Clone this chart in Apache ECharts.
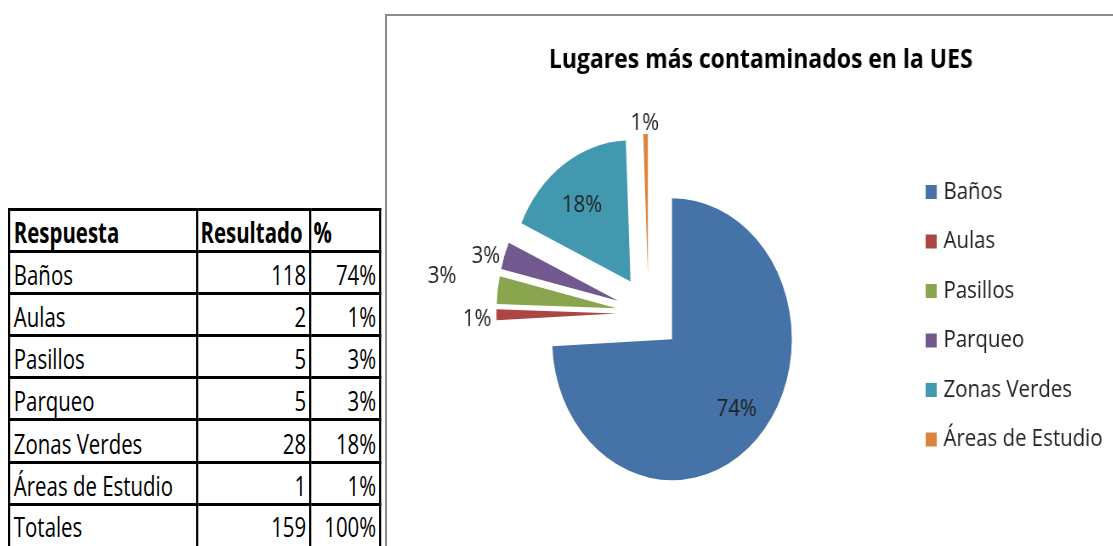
<!DOCTYPE html>
<html>
<head>
<meta charset="utf-8">
<script src="https://cdn.jsdelivr.net/npm/echarts@6/dist/echarts.min.js"></script>
<style>
  html, body { margin: 0; padding: 0; background: #fff; }
  body { width: 1113px; height: 546px; overflow: hidden; position: relative; font-family: 'Open Sans', sans-serif; }
  #tblwrap { position: absolute; left: 8px; top: 208px; transform: scaleX(0.729); transform-origin: 0 0; }
  table { border-collapse: collapse; table-layout: fixed; font-size: 28px; color: #000; }
  td { box-sizing: border-box; border: 3px solid #000; height: 42.1px; line-height: 29px; vertical-align: bottom; padding: 0 4px 3px 5px; white-space: nowrap; overflow: hidden; }
  td.num { text-align: right; padding: 0 4px 3px 2px; }
  tr.head td { font-weight: bold; }
  tr.head td.h2, tr.head td.h3 { text-align: left; padding-left: 3px; }
  tr.tot td { height: 50px; vertical-align: top; padding-top: 6px; }
  #box { position: absolute; left: 385px; top: 14px; right: -5px; bottom: -5px; border-top: 2px solid #8c8c8c; border-left: 2px solid #8c8c8c; }
  #chartwrap { position: absolute; left: 0; top: 0; width: 1310px; height: 546px; transform: scaleX(0.85); transform-origin: 0 0; }
  #chart { width: 1310px; height: 546px; }
</style>
</head>
<body>
<div id="box"></div>
<div id="tblwrap"><table id="tbl"></table></div>
<div id="chartwrap"><div id="chart"></div></div>
<script>
// ---- data ----
const title = 'Lugares más contaminados en la UES';
const categories = ['Baños', 'Aulas', 'Pasillos', 'Parqueo', 'Zonas Verdes', 'Áreas de Estudio'];
const results = [118, 2, 5, 5, 28, 1];
const tableHeaders = ['Respuesta', 'Resultado', '%'];
const totalLabel = 'Totales';

// ---- table ----
const total = results.reduce((a, b) => a + b, 0);
const colW = [258, 155, 96];
let html = '<colgroup>' + colW.map(w => '<col style="width:' + w + 'px">').join('') + '</colgroup>';
html += '<tr class="head"><td>' + tableHeaders[0] + '</td><td class="h2">' + tableHeaders[1] + '</td><td class="h3">' + tableHeaders[2] + '</td></tr>';
categories.forEach((c, i) => {
  html += '<tr><td>' + c + '</td><td class="num">' + results[i] + '</td><td class="num">' + Math.round(results[i] / total * 100) + '%</td></tr>';
});
html += '<tr class="tot"><td>' + totalLabel + '</td><td class="num">' + total + '</td><td class="num">100%</td></tr>';
document.getElementById('tbl').innerHTML = html;

// ---- chart ----
const colors = ['#4572A7', '#AA4643', '#89A54E', '#71588F', '#4198AF', '#DB843D'];
const labelPlace = {
  'Baños':            { pos: 'inside',  len: 0,  dx: 23,  dy: 19 },
  'Aulas':            { pos: 'outside', len: 1,  dx: 0,   dy: 4 },
  'Pasillos':         { pos: 'outside', len: 44, dx: 0,   dy: -8 },
  'Parqueo':          { pos: 'outside', len: 0,  dx: 0,   dy: 0 },
  'Zonas Verdes':     { pos: 'inside',  len: 0,  dx: -16, dy: -15 },
  'Áreas de Estudio': { pos: 'outside', len: 11, dx: 21,  dy: 0 }
};

const chart = echarts.init(document.getElementById('chart'), null, { renderer: 'canvas' });
const option = {
  animation: false,
  textStyle: { fontFamily: 'Open Sans' },
  title: {
    text: title,
    left: 890,
    top: 39,
    textAlign: 'center',
    textStyle: { fontFamily: 'Open Sans', fontWeight: 'bold', fontSize: 27, color: '#000', lineHeight: 32 }
  },
  legend: {
    orient: 'vertical',
    left: 1089,
    top: 180,
    padding: 0,
    icon: 'rect',
    itemWidth: 13,
    itemHeight: 14,
    itemGap: 25.5,
    selectedMode: false,
    data: categories,
    textStyle: { fontFamily: 'Open Sans', fontSize: 24, color: '#222', lineHeight: 24, padding: [0, 0, 0, 3] }
  },
  series: [{
    type: 'pie',
    center: [763, 313],
    radius: 141,
    startAngle: 90,
    clockwise: true,
    selectedMode: 'multiple',
    selectedOffset: 38,
    avoidLabelOverlap: false,
    emphasis: { disabled: true },
    label: {
      show: true,
      position: 'outside',
      fontFamily: 'Open Sans',
      fontSize: 24,
      color: '#222',
      formatter: p => Math.round(p.percent) + '%'
    },
    labelLine: { show: false, length: 0, length2: 0 },
    labelLayout: p => {
      const lp = labelPlace[categories[p.dataIndex]];
      return { dx: lp.dx, dy: lp.dy };
    },
    data: categories.map((name, i) => ({
      name: name,
      value: results[i],
      selected: true,
      itemStyle: { color: colors[i] },
      select: { itemStyle: { color: colors[i] } },
      label: { position: labelPlace[name].pos },
      labelLine: { show: false, length: labelPlace[name].len, length2: 0 }
    }))
  }]
};
chart.setOption(option);
</script>
</body>
</html>
